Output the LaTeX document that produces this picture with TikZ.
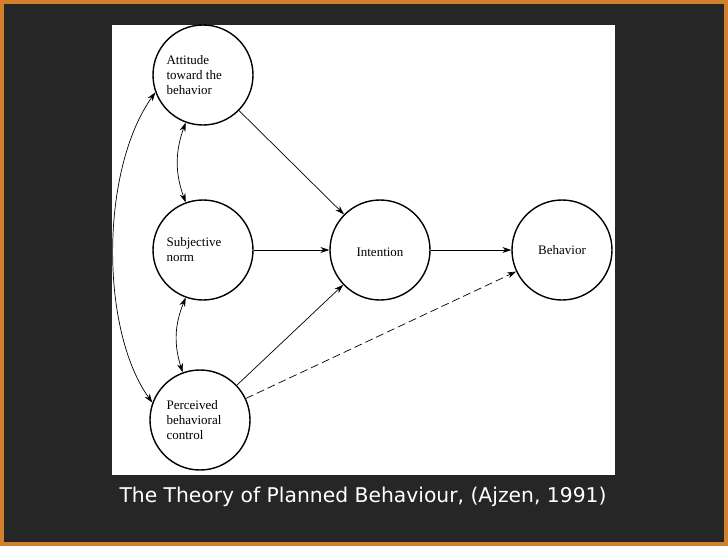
\documentclass[tikz,border=0pt]{standalone}
\usepackage{fontspec}
\setmainfont{Liberation Serif}
\newfontfamily\capfont{DejaVu Sans}
\usetikzlibrary{arrows.meta}
\begin{document}
\begin{tikzpicture}[x=1pt,y=-1pt,
  st/.style={circle,draw,line width=1.4pt,minimum size=100pt,inner sep=0pt},
  lab/.style={align=left,font=\fontsize{13}{15}\selectfont},
  ar/.style={-{Stealth[length=9pt,width=6pt]},line width=0.7pt},
  dar/.style={{Stealth[length=9pt,width=6pt]}-{Stealth[length=9pt,width=6pt]},line width=0.7pt}]
\useasboundingbox (0,0) rectangle (728,546);
\fill[brown!70!orange] (0,0) rectangle (728,546);
\fill[black!85] (4,4) rectangle (724,542);
\fill[white] (112,25) rectangle (615,475);
\node[st] (att) at (203,75) {};
\node[lab,anchor=west] at (163,75) {Attitude\\toward the\\behavior};
\node[st] (sub) at (203,250) {};
\node[lab,anchor=west] at (163,250) {Subjective\\norm};
\node[st] (per) at (200,420) {};
\node[lab,anchor=west] at (163,420) {Perceived\\behavioral\\control};
\node[st] (int) at (380,250) {};
\node[lab] at (380,252) {Intention};
\node[st] (beh) at (562,250) {};
\node[lab] at (562,250) {Behavior};
\draw[ar] (att) -- (int);
\draw[ar] (sub) -- (int);
\draw[ar] (per) -- (int);
\draw[ar] (int) -- (beh);
\draw[ar,dashed,dash pattern=on 8pt off 4pt] (per) -- (beh);
\draw[dar] (att.250) to[bend right=20] (sub.110);
\draw[dar] (sub.250) to[bend right=20] (per.110);
\draw[dar] (att.200) .. controls (100,170) and (100,330) .. (per.160);
\node[text=white,font=\capfont\fontsize{20.3}{24}\selectfont] (cap) at (363,497) {The Theory of Planned Behaviour, (Ajzen, 1991)};
\end{tikzpicture}
\end{document}
